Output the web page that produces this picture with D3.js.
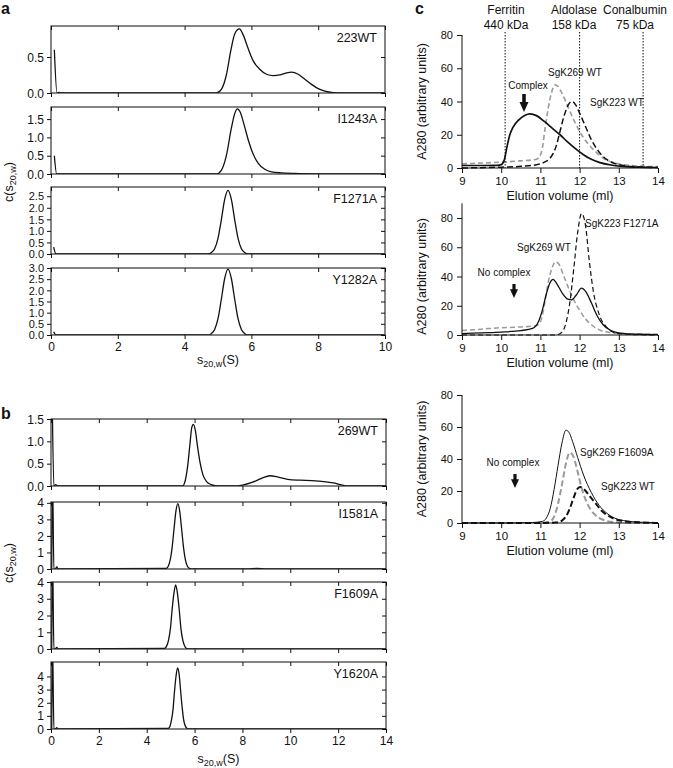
<!DOCTYPE html>
<html><head><meta charset="utf-8">
<script src="https://cdn.jsdelivr.net/npm/d3@7"></script>
<style>
body{margin:0;background:#fff}
svg text{font-family:"Liberation Sans",Arial,Helvetica,sans-serif;fill:#111}
</style>
</head><body>
<svg id="fig" width="673" height="768"></svg>
<script>
// ---------------- DATA ----------------
// Panel a (s20,w in S vs c(s))
const aNames = ["223WT","I1243A","F1271A","Y1282A"];
const aYMax = [0.93,1.83,2.9,3.0];
const aYTicks = [[0,0.5],[0,0.5,1,1.5],[0,0.5,1,1.5,2,2.5],[0,0.5,1,1.5,2,2.5,3]];
const aXTicks = [0,2,4,6,8,10];
const a223WT = [[0.1,0.6],[0.18,0],[0.24,0.01],[0.3,0],[4.95,0],[5.1,0.05],[5.25,0.25],[5.38,0.58],[5.5,0.82],[5.64,0.89],[5.76,0.8],[5.9,0.62],[6.05,0.45],[6.25,0.33],[6.45,0.26],[6.65,0.24],[6.85,0.25],[7.05,0.28],[7.2,0.29],[7.4,0.26],[7.6,0.19],[7.8,0.12],[8.0,0.06],[8.2,0.025],[8.45,0.005],[8.7,0],[10,0]];
const aI1243A = [[0.1,0.5],[0.17,0],[0.25,0.01],[0.3,0],[4.95,0],[5.1,0.1],[5.25,0.5],[5.4,1.25],[5.5,1.65],[5.58,1.78],[5.66,1.7],[5.78,1.35],[5.9,0.95],[6.05,0.55],[6.2,0.3],[6.4,0.13],[6.6,0.06],[6.9,0.03],[7.3,0.015],[8,0.005],[10,0]];
const aF1271A = [[0.08,0.3],[0.15,0],[0.3,0],[4.7,0],[4.8,0.06],[4.9,0.23],[5.0,0.68],[5.1,1.48],[5.2,2.36],[5.3,2.75],[5.4,2.36],[5.5,1.48],[5.6,0.68],[5.7,0.23],[5.8,0.06],[5.9,0],[10,0]];
const aY1282A = [[0.08,0.15],[0.15,0],[0.3,0],[4.7,0],[4.8,0.06],[4.9,0.25],[5.0,0.73],[5.1,1.6],[5.2,2.53],[5.3,2.95],[5.4,2.53],[5.5,1.6],[5.6,0.73],[5.7,0.25],[5.8,0.06],[5.9,0],[10,0]];

// Panel b
const bNames = ["269WT","I1581A","F1609A","Y1620A"];
const bYMax = [1.5,4.05,4.0,5.1];
const bYTicks = [[0,0.5,1,1.5],[0,1,2,3,4],[0,1,2,3,4],[0,1,2,3,4]];
const bXTicks = [0,2,4,6,8,10,12,14];
const b269WT = [[0.05,2],[0.12,0],[0.2,0.03],[0.27,0],[5.5,0],[5.6,0.1],[5.7,0.4],[5.8,0.9],[5.88,1.3],[5.95,1.38],[6.03,1.25],[6.12,0.9],[6.22,0.55],[6.35,0.25],[6.5,0.1],[6.7,0.03],[7.0,0],[7.6,0],[8.0,0.02],[8.4,0.08],[8.8,0.17],[9.15,0.23],[9.5,0.2],[9.9,0.15],[10.4,0.13],[10.9,0.12],[11.4,0.1],[11.8,0.07],[12.1,0.03],[12.4,0],[14,0]];
const bI1581A = [[0.03,0],[0.06,6],[0.12,0],[0.18,0],[0.24,0.12],[0.3,0],[4.8,0.03],[4.9,0.17],[4.98,0.53],[5.06,1.28],[5.14,2.4],[5.22,3.48],[5.3,3.95],[5.38,3.48],[5.46,2.4],[5.54,1.28],[5.62,0.53],[5.7,0.17],[5.8,0.03],[5.9,0],[8.2,0],[8.6,0.03],[9,0],[14,0]];
const bF1609A = [[0.03,0],[0.06,6],[0.12,0],[0.18,0],[0.24,0.1],[0.3,0],[4.75,0.04],[4.83,0.17],[4.91,0.52],[4.99,1.22],[5.06,2.33],[5.14,3.36],[5.21,3.82],[5.28,3.36],[5.36,2.33],[5.43,1.22],[5.51,0.52],[5.59,0.17],[5.66,0.04],[5.75,0],[14,0]];
const bY1620A = [[0.03,0],[0.06,7],[0.12,0],[0.18,0],[0.24,0.1],[0.3,0],[4.9,0.05],[4.97,0.2],[5.03,0.63],[5.1,1.49],[5.16,2.84],[5.23,4.09],[5.29,4.65],[5.36,4.09],[5.42,2.84],[5.49,1.49],[5.55,0.63],[5.62,0.2],[5.68,0.05],[5.75,0],[14,0]];

// Panel c (elution volume, ml vs A280)
const cXTicks = [9,10,11,12,13,14];
const cYTicks = [0,20,40,60,80];
const markerNames = ["Ferritin","Aldolase","Conalbumin"];
const markerMass = ["440 kDa","158 kDa","75 kDa"];
const markerVol = [10.1,12.0,13.62];
// c1
const c1Complex = [[9,1.5],[9.5,1.5],[9.9,1.6],[10.0,2],[10.08,5],[10.15,13],[10.22,20],[10.3,24.5],[10.45,29],[10.6,31.6],[10.73,32.5],[10.9,31.5],[11.1,28],[11.3,24],[11.5,20],[11.7,15.5],[11.9,11.5],[12.1,8],[12.3,5.2],[12.5,3.4],[12.8,1.8],[13.1,1],[13.5,0.5],[14,0.3]];
const c1SgK269WT = [[9,2.5],[9.5,3],[10,3.5],[10.5,4.3],[10.85,5],[10.95,6],[11.05,12],[11.12,24],[11.2,36],[11.28,45],[11.37,50],[11.45,49],[11.55,45],[11.7,37],[11.85,29],[12.0,22],[12.2,15],[12.4,10],[12.6,6],[12.9,3],[13.3,1.5],[14,0.8]];
const c1SgK223WT = [[9,0],[9.5,0.2],[10,0.5],[10.5,1],[10.9,2],[11.1,3.5],[11.25,6],[11.4,13],[11.5,22],[11.6,31],[11.7,37.5],[11.8,40],[11.9,38],[12.0,33],[12.15,25],[12.3,17],[12.5,9.5],[12.7,5],[13.0,2],[13.4,0.8],[14,0.3]];
// c2
const c2Mix = [[9,1],[9.5,1.5],[10,2],[10.5,3],[10.8,4.5],[10.95,9],[11.05,17],[11.15,28],[11.25,36],[11.32,38],[11.42,35],[11.55,29],[11.7,24.5],[11.8,24],[11.92,27.5],[12.05,32],[12.15,30],[12.3,22],[12.45,13],[12.6,7],[12.8,3],[13.0,1.5],[13.5,0.5],[14,0.3]];
const c2SgK269WT = [[9,3],[9.5,4],[10,5],[10.5,5.5],[10.9,6.5],[11.0,9],[11.1,20],[11.2,36],[11.3,46],[11.38,50],[11.47,48.5],[11.6,40],[11.75,30],[11.85,24],[12.0,17],[12.15,11],[12.3,7],[12.5,3.5],[12.7,2],[13.0,1],[14,0.5]];
const c2SgK223F1271A = [[9,0],[11.4,0],[11.55,2],[11.65,8],[11.75,22],[11.85,45],[11.95,70],[12.05,83],[12.15,75],[12.25,50],[12.35,30],[12.5,14],[12.7,5],[12.9,1.5],[13.2,0.5],[14,0]];
// c3
const c3Mix = [[9,0],[10,0],[10.8,0.3],[11.05,1],[11.15,3],[11.25,9],[11.35,21],[11.45,36],[11.55,50],[11.65,58],[11.72,57],[11.82,51],[11.95,41],[12.1,30],[12.3,19],[12.5,11],[12.7,6],[12.9,3],[13.2,1.2],[13.6,0.4],[14,0.2]];
const c3SgK269F1609A = [[9,0],[11,0],[11.25,1],[11.35,4],[11.45,12],[11.55,24],[11.65,37],[11.75,44],[11.85,41],[11.95,32],[12.05,22],[12.2,12],[12.4,5],[12.6,2],[12.9,0.5],[13.5,0],[14,0]];
const c3SgK223WT = [[9,0],[11,0],[11.4,0.3],[11.55,1.5],[11.65,4],[11.75,9],[11.85,16],[11.95,21.5],[12.02,22.5],[12.12,21],[12.25,17],[12.4,12.5],[12.55,8],[12.7,5],[12.9,2.5],[13.2,1],[13.6,0.3],[14,0]];

// ---------------- DRAWING ----------------
const svg = d3.select("#fig");
let clipId = 0;
const fmt1 = d3.format(".1f"), fmt0 = d3.format("d");

function styleAxis(g, fs){
  g.select(".domain").remove();
  g.selectAll(".tick line").attr("stroke","#111");
  g.selectAll(".tick text").attr("font-size",fs).attr("fill","#111").attr("font-family",'"Liberation Sans",Arial,sans-serif');
}

function stackPanel(L, names, yMax, yTicks, xTicks, series, yFmt){
  const x = d3.scaleLinear().domain(L.xDomain).range([L.left, L.right]);
  L.tops.forEach((top,i)=>{
    const y = d3.scaleLinear().domain([0,yMax[i]]).range([top+L.h, top]);
    const g = svg.append("g");
    const id = "clip"+(clipId++);
    svg.append("clipPath").attr("id",id).append("rect")
      .attr("x",L.left).attr("y",top).attr("width",L.right-L.left).attr("height",L.h);
    const line = d3.line().x(d=>x(d[0])).y(d=>y(d[1])).curve(d3.curveMonotoneX);
    g.append("path").datum(series[i]).attr("d",line).attr("fill","none")
      .attr("stroke","#111").attr("stroke-width",1.3).attr("clip-path",`url(#${id})`);
    // frame
    g.append("rect").attr("x",L.left).attr("y",top).attr("width",L.right-L.left).attr("height",L.h)
      .attr("fill","none").attr("stroke","#222").attr("stroke-width",1.1);
    // left axis
    const step = Math.abs(y(yTicks[i][1]) - y(yTicks[i][0]));
    const fs = step < 13 ? 11 : 12;
    const ax = g.append("g").attr("transform",`translate(${L.left},0)`)
      .call(d3.axisLeft(y).tickValues(yTicks[i]).tickSize(4).tickPadding(3).tickFormat(yFmt[i]));
    styleAxis(ax, fs);
    ax.selectAll(".tick text").attr("dy","0.34em");
    // right ticks (inward)
    const ar = g.append("g").attr("transform",`translate(${L.right},0)`)
      .call(d3.axisLeft(y).tickValues(yTicks[i]).tickSize(4).tickFormat(""));
    styleAxis(ar, 12);
    // bottom ticks (outward), labels only last
    const ab = g.append("g").attr("transform",`translate(0,${top+L.h})`)
      .call(d3.axisBottom(x).tickValues(xTicks).tickSize(4).tickPadding(3).tickFormat(i===L.tops.length-1? fmt0 : ""));
    styleAxis(ab, 12);
    // top ticks (inward)
    const at = g.append("g").attr("transform",`translate(0,${top})`)
      .call(d3.axisBottom(x).tickValues(xTicks).tickSize(4).tickFormat(""));
    styleAxis(at, 12);
    // name
    g.append("text").attr("x",L.right-8).attr("y",top+16).attr("text-anchor","end")
      .attr("font-size",12.5).text(names[i]);
  });
  // x title
  const xt = svg.append("text").attr("x",(L.left+L.right)/2).attr("y",L.xTitleY)
    .attr("text-anchor","middle").attr("font-size",12.5);
  xt.append("tspan").text("s");
  xt.append("tspan").attr("font-size",9).attr("dy",3).text("20,w");
  xt.append("tspan").attr("dy",-3).text("(S)");
  // y title
  const yt = svg.append("text").attr("transform",`translate(${L.yTitleX},${L.yTitleY}) rotate(-90)`)
    .attr("text-anchor","middle").attr("font-size",12.5);
  yt.append("tspan").text("c(s");
  yt.append("tspan").attr("font-size",9).attr("dy",3).text("20,w");
  yt.append("tspan").attr("dy",-3).text(")");
  // panel letter
  svg.append("text").attr("x",L.letterX).attr("y",L.letterY).attr("font-weight","bold")
    .attr("font-size",16).text(L.letter);
}

stackPanel({left:51,right:385,tops:[26,107,187,268],h:67,xDomain:[0,10],xTitleY:364,yTitleX:13,yTitleY:182,letter:"a",letterX:1,letterY:14},
  aNames,aYMax,aYTicks,aXTicks,[a223WT,aI1243A,aF1271A,aY1282A],[fmt1,fmt1,fmt1,fmt1]);
stackPanel({left:51,right:386,tops:[419,502,582,662],h:67,xDomain:[0,14],xTitleY:763,yTitleX:13,yTitleY:563,letter:"b",letterX:1,letterY:419},
  bNames,bYMax,bYTicks,bXTicks,[b269WT,bI1581A,bF1609A,bY1620A],[fmt1,fmt0,fmt0,fmt0]);

// ---- panel c ----
function arrow(x, y1, y2, w){
  const head = w*1.1;
  svg.append("line").attr("x1",x).attr("x2",x).attr("y1",y1).attr("y2",y2-head+1)
    .attr("stroke","#111").attr("stroke-width",w*0.4);
  svg.append("path").attr("d",`M${x-w/2},${y2-head} L${x+w/2},${y2-head} L${x},${y2} Z`).attr("fill","#111");
}

function elutionPanel(P){
  const x = d3.scaleLinear().domain([9,14]).range([P.left,P.right]);
  const y = d3.scaleLinear().domain([0,P.yMax]).range([P.bottom,P.bottom-P.yMax*P.pxPerUnit]);
  const g = svg.append("g");
  P.series.forEach(s=>{
    const line = d3.line().x(d=>x(d[0])).y(d=>y(d[1])).curve(d3.curveMonotoneX);
    g.append("path").datum(s.data).attr("d",line).attr("fill","none")
      .attr("stroke",s.color).attr("stroke-width",s.w).attr("stroke-dasharray",s.dash||null);
  });
  const ax = g.append("g").attr("transform",`translate(${P.left},0)`)
    .call(d3.axisLeft(y).tickValues(cYTicks).tickSize(5).tickPadding(4).tickFormat(fmt0));
  ax.select(".domain").remove();
  g.append("line").attr("x1",P.left).attr("x2",P.left).attr("y1",y(0)).attr("y2",y(P.yMax)).attr("stroke","#111");
  styleAxis(ax, 11);
  const ab = g.append("g").attr("transform",`translate(0,${P.bottom})`)
    .call(d3.axisBottom(x).tickValues(cXTicks).tickSize(5).tickPadding(4).tickFormat(fmt0));
  ab.select(".domain").remove();
  g.append("line").attr("x1",P.left).attr("x2",P.right).attr("y1",P.bottom).attr("y2",P.bottom).attr("stroke","#111");
  styleAxis(ab, 11.5);
  g.append("text").attr("x",(P.left+P.right)/2).attr("y",P.bottom+32).attr("text-anchor","middle")
    .attr("font-size",12.5).text("Elution volume (ml)");
  g.append("text").attr("transform",`translate(${P.left-36},${(y(0)+y(80))/2}) rotate(-90)`)
    .attr("text-anchor","middle").attr("font-size",12.5).text("A280 (arbitrary units)");
  return {x,y};
}

const gray = "#9a9a9a";
const c1 = elutionPanel({left:462,right:658,bottom:168,yMax:80,pxPerUnit:133/80,series:[
  {data:c1SgK269WT,color:gray,w:1.6,dash:"5,3"},
  {data:c1SgK223WT,color:"#111",w:1.5,dash:"6,3"},
  {data:c1Complex,color:"#111",w:1.7}
]});
const c2 = elutionPanel({left:462,right:658,bottom:335,yMax:90,pxPerUnit:117/80,series:[
  {data:c2SgK269WT,color:gray,w:1.5,dash:"5,3"},
  {data:c2SgK223F1271A,color:"#111",w:1.2,dash:"5,3"},
  {data:c2Mix,color:"#111",w:1.3}
]});
const c3 = elutionPanel({left:462,right:658,bottom:523,yMax:80,pxPerUnit:128/80,series:[
  {data:c3SgK269F1609A,color:gray,w:2,dash:"6,3"},
  {data:c3SgK223WT,color:"#111",w:2,dash:"6,3"},
  {data:c3Mix,color:"#111",w:1}
]});

// size-standard markers (c1)
markerVol.forEach((v,i)=>{
  svg.append("line").attr("x1",c1.x(v)).attr("x2",c1.x(v)).attr("y1",32).attr("y2",168)
    .attr("stroke","#111").attr("stroke-width",1).attr("stroke-dasharray","1.5,1.5");
});
const markerLabelX = [506,574,635];
markerNames.forEach((n,i)=>{
  svg.append("text").attr("x",markerLabelX[i]).attr("y",14).attr("text-anchor","middle").attr("font-size",12).text(n);
  svg.append("text").attr("x",markerLabelX[i]).attr("y",29).attr("text-anchor","middle").attr("font-size",12).text(markerMass[i]);
});
svg.append("text").attr("x",415).attr("y",14).attr("font-weight","bold").attr("font-size",16).text("c");

// annotations
function ann(x,y,t,anchor){svg.append("text").attr("x",x).attr("y",y).attr("text-anchor",anchor||"start").attr("font-size",10).text(t);}
ann(528,89,"Complex","middle"); arrow(524,94,112,9);
ann(575,76,"SgK269 WT","middle");
ann(590,106,"SgK223 WT");
ann(585,227,"SgK223 F1271A");
ann(517,251,"SgK269 WT");
ann(504,276,"No complex","middle"); arrow(514,284,298,8);
ann(513,466,"No complex","middle"); arrow(515,474,488,8);
ann(580,456,"SgK269 F1609A");
ann(601,490,"SgK223 WT");
</script>
</body></html>
